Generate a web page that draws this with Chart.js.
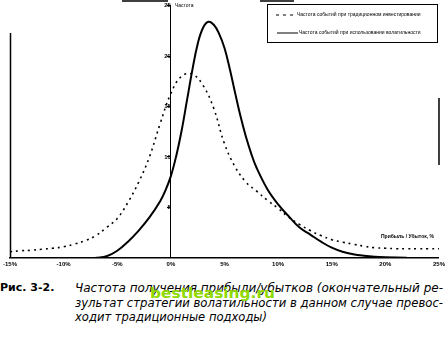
<!DOCTYPE html>
<html>
<head>
<meta charset="utf-8">
<script src="https://cdn.jsdelivr.net/npm/chart.js@4"></script>
<style>
body { margin: 0; background: #fff; width: 448px; height: 338px; overflow: hidden; position: relative; font-family: "DejaVu Sans", sans-serif; }
#wrap { position: absolute; left: 0; top: 0; width: 448px; height: 271px; }
.cap { position: absolute; font-size: 12px; white-space: nowrap; color: #000; font-style: italic; transform-origin: 0 0; }
#fig { position: absolute; left: 0; top: 281px; font-size: 11px; font-weight: bold; }
#mark { position: absolute; left: 150px; top: 285px; font-size: 14px; font-weight: bold; color: #8fd800; transform-origin: 0 0; white-space: nowrap; }
</style>
</head>
<body>
<div id="wrap"><canvas id="c"></canvas></div>
<div id="fig">Рис. 3-2.</div>
<div class="cap" data-w="368" style="left:75px;top:281px">Частота получения прибыли/убытков (окончательный ре-</div>
<div class="cap" data-w="368" style="left:75px;top:296px">зультат стратегии волатильности в данном случае превос-</div>
<div class="cap" data-w="192" style="left:75px;top:310px">ходит традиционные подходы)</div>
<div id="mark" data-w="125">bestleasing.ru</div>
<script>
// series (x = profit/loss %, y = frequency)
var tradX = [-15, -14, -13, -12, -11, -10, -9, -8, -7, -6, -5, -4, -3, -2, -1, 0, 1, 2, 3, 4, 5, 6, 7, 8, 9, 10, 11, 12, 13, 14, 15, 16, 17, 18, 19, 20, 21, 22, 23, 24, 25];
var tradY = [0.6, 0.7, 0.75, 0.85, 0.95, 1.1, 1.35, 1.7, 2.2, 3.0, 3.9, 5.5, 7.5, 10.0, 13.3, 16.3, 18.0, 18.2, 17.1, 14.8, 11.3, 9.0, 7.5, 6.6, 5.7, 4.9, 4.0, 3.3, 2.7, 2.2, 1.8, 1.55, 1.35, 1.15, 1.0, 0.95, 0.9, 0.9, 0.9, 0.9, 0.9];

var volX = [-7, -6, -5, -4, -3, -2, -1, -0.5, 0, 0.5, 1, 1.5, 2, 2.5, 3, 3.5, 4, 4.5, 5, 5.5, 6, 6.5, 7, 7.5, 8, 9, 10, 11, 12, 13, 14, 15, 16, 17, 18, 19, 20, 22];
var volY = [0, 0.15, 0.7, 1.6, 2.7, 4.0, 5.6, 6.7, 8.1, 10.1, 12.6, 15.6, 18.6, 21.2, 22.8, 23.4, 23.1, 22.2, 20.8, 18.7, 16.3, 14.0, 12.0, 10.3, 8.9, 6.8, 5.3, 4.1, 3.0, 2.3, 1.6, 1.0, 0.6, 0.35, 0.2, 0.1, 0.05, 0];

var seriesNames = ["Частота событий при традиционном инвестировании", "Частота событий при использовании волатильности"];
var yTitle = "Частота";
var xTitle = "Прибыль / Убыток, %";

function pairs(xs, ys) {
    var out = [];
    for (var i = 0; i < xs.length; i++) {
        out.push({x: xs[i], y: ys[i]});
    }
    return out;
}

// stretch caption lines to the widths of the printed lines
document.querySelectorAll('[data-w]').forEach(function(el) {
    var w = el.getBoundingClientRect().width;
    el.style.transform = 'scaleX(' + (parseFloat(el.getAttribute('data-w')) / w) + ')';
});

// legend box, axis titles and the bits of frame left on the scan
var extras = {
    id: 'extras',
    afterDraw: function(chart) {
        var ctx = chart.ctx;
        var a = chart.chartArea;
        ctx.save();
        ctx.strokeStyle = '#000';
        ctx.fillStyle = '#000';

        // frame remains
        ctx.lineWidth = 1.5;
        ctx.beginPath();
        ctx.moveTo(a.left + 0.5, 33); ctx.lineTo(a.left + 0.5, a.bottom);
        ctx.moveTo(122, 1); ctx.lineTo(168, 1);
        ctx.moveTo(260, 1); ctx.lineTo(294, 1);
        ctx.moveTo(a.right, 98); ctx.lineTo(a.right, 165);
        ctx.stroke();

        // legend
        ctx.lineWidth = 1;
        ctx.strokeRect(267.5, 4.5, 170, 38);
        ctx.font = '5px "Liberation Sans"';
        ctx.textBaseline = 'middle';
        ctx.setLineDash([3, 4]);
        ctx.beginPath(); ctx.moveTo(276, 15); ctx.lineTo(295, 15); ctx.stroke();
        ctx.setLineDash([]);
        ctx.beginPath(); ctx.moveTo(277, 33); ctx.lineTo(298, 33); ctx.stroke();
        ctx.fillText(chart.data.datasets[0].label, 297, 15);
        ctx.fillText(chart.data.datasets[1].label, 299, 33);

        // axis titles
        var x0 = chart.scales.x.getPixelForValue(0);
        ctx.fillText(yTitle, x0 + 4, 6);
        ctx.font = 'bold 5px "Liberation Sans"';
        ctx.textAlign = 'right';
        ctx.fillText(xTitle, a.right - 5, 237);
        ctx.restore();
    }
};

new Chart(document.getElementById('c'), {
    type: 'line',
    data: {
        datasets: [
            {
                label: seriesNames[0],
                data: pairs(tradX, tradY),
                borderColor: '#000',
                borderWidth: 1.6,
                borderDash: [2, 4],
                pointRadius: 0,
                tension: 0.4,
                fill: false
            },
            {
                label: seriesNames[1],
                data: pairs(volX, volY),
                borderColor: '#000',
                borderWidth: 2,
                pointRadius: 0,
                tension: 0.4,
                fill: false
            }
        ]
    },
    options: {
        responsive: true,
        maintainAspectRatio: false,
        animation: false,
        layout: { padding: { left: -5, right: 6, top: 3, bottom: 0 } },
        plugins: { legend: { display: false }, tooltip: { enabled: false } },
        scales: {
            x: {
                type: 'linear',
                min: -15,
                max: 25,
                grid: { display: false, drawTicks: false, tickLength: 0 },
                border: { color: '#000', width: 1.5 },
                ticks: {
                    stepSize: 5,
                    color: '#000',
                    padding: 3,
                    font: { size: 6, weight: 'bold', family: '"Liberation Sans"' },
                    callback: function(v) { return v + '%'; }
                }
            },
            y: {
                position: { x: 0 },
                min: 0,
                max: 25,
                grid: { drawOnChartArea: false, color: '#000', tickLength: 3 },
                border: { color: '#000', width: 1, dash: [2, 2] },
                ticks: {
                    stepSize: 5,
                    color: '#000',
                    padding: 2,
                    font: { size: 6, weight: 'bold', family: '"Liberation Sans"' },
                    callback: function(v) { return v === 0 ? '' : v; }
                }
            }
        }
    },
    plugins: [extras]
});
</script>
</body>
</html>
